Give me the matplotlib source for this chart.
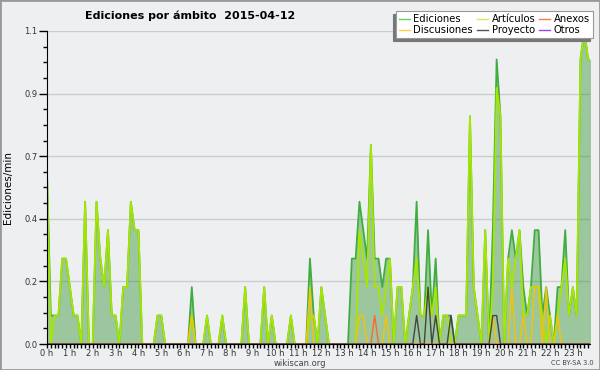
import numpy as np
import matplotlib.pyplot as plt
from matplotlib.patches import Rectangle
from matplotlib.lines import Line2D

# ediciones por minuto, bloques de 10 min (6 por hora)
ediciones = [
    0.6, 0.1, 0.1, 0.1, 0.3, 0.3,   # 0 h
    0.2, 0.1, 0.1, 0.0, 0.5, 0.0,   # 1 h
    0.0, 0.5, 0.3, 0.2, 0.4, 0.1,   # 2 h
    0.1, 0.0, 0.2, 0.2, 0.5, 0.4,   # 3 h
    0.4, 0.0, 0.0, 0.0, 0.0, 0.1,   # 4 h
    0.1, 0.0, 0.0, 0.0, 0.0, 0.0,   # 5 h
    0.0, 0.0, 0.2, 0.0, 0.0, 0.0,   # 6 h
    0.1, 0.0, 0.0, 0.0, 0.1, 0.0,   # 7 h
    0.0, 0.0, 0.0, 0.0, 0.2, 0.0,   # 8 h
    0.0, 0.0, 0.0, 0.2, 0.0, 0.1,   # 9 h
    0.0, 0.0, 0.0, 0.0, 0.1, 0.0,   # 10 h
    0.0, 0.0, 0.0, 0.3, 0.1, 0.0,   # 11 h
    0.2, 0.1, 0.0, 0.0, 0.0, 0.0,   # 12 h
    0.0, 0.0, 0.3, 0.3, 0.5, 0.4,   # 13 h
    0.3, 0.7, 0.3, 0.3, 0.2, 0.3,   # 14 h
    0.3, 0.0, 0.2, 0.2, 0.0, 0.1,   # 15 h
    0.2, 0.5, 0.1, 0.1, 0.4, 0.1,   # 16 h
    0.3, 0.0, 0.1, 0.1, 0.1, 0.0,   # 17 h
    0.1, 0.1, 0.1, 0.8, 0.2, 0.1,   # 18 h
    0.0, 0.4, 0.0, 0.4, 1.0, 0.8,   # 19 h
    0.0, 0.3, 0.4, 0.3, 0.4, 0.2,   # 20 h
    0.1, 0.2, 0.4, 0.4, 0.1, 0.2,   # 21 h
    0.1, 0.0, 0.2, 0.2, 0.4, 0.1,   # 22 h
    0.2, 0.1, 1.0, 1.1, 1.0, 1.0,   # 23 h
]

articulos = [
    0.6, 0.0, 0.1, 0.1, 0.3, 0.3,
    0.2, 0.1, 0.1, 0.0, 0.5, 0.0,
    0.0, 0.5, 0.3, 0.2, 0.4, 0.1,
    0.1, 0.0, 0.2, 0.2, 0.5, 0.4,
    0.4, 0.0, 0.0, 0.0, 0.0, 0.1,
    0.1, 0.0, 0.0, 0.0, 0.0, 0.0,
    0.0, 0.0, 0.1, 0.0, 0.0, 0.0,
    0.1, 0.0, 0.0, 0.0, 0.1, 0.0,
    0.0, 0.0, 0.0, 0.0, 0.2, 0.0,
    0.0, 0.0, 0.0, 0.2, 0.0, 0.1,
    0.0, 0.0, 0.0, 0.0, 0.1, 0.0,
    0.0, 0.0, 0.0, 0.1, 0.1, 0.0,
    0.2, 0.1, 0.0, 0.0, 0.0, 0.0,
    0.0, 0.0, 0.0, 0.0, 0.4, 0.3,
    0.2, 0.7, 0.2, 0.2, 0.1, 0.2,
    0.3, 0.0, 0.2, 0.2, 0.0, 0.1,
    0.2, 0.3, 0.1, 0.1, 0.2, 0.1,
    0.2, 0.0, 0.1, 0.1, 0.0, 0.0,
    0.1, 0.1, 0.1, 0.8, 0.2, 0.1,
    0.0, 0.4, 0.0, 0.2, 0.9, 0.8,
    0.0, 0.3, 0.2, 0.3, 0.4, 0.1,
    0.1, 0.2, 0.2, 0.2, 0.1, 0.0,
    0.1, 0.0, 0.1, 0.2, 0.3, 0.1,
    0.2, 0.1, 1.0, 1.1, 1.0, 1.0,
]

# series casi vacías: (índice de bloque, valor)
discusiones = {38: 0.1, 69: 0.2, 82: 0.1, 83: 0.1, 89: 0.1, 117: 0.1,
               122: 0.2, 125: 0.1, 128: 0.2, 129: 0.2, 131: 0.2, 134: 0.1}
anexos = {86: 0.1}
proyecto = {97: 0.1, 100: 0.2, 102: 0.1, 106: 0.1, 117: 0.1, 118: 0.1}
otros = {}

horas = [f"{h} h" for h in range(24)]
titulo = "Ediciones por ámbito  2015-04-12"


def serie(puntos, n=144):
    v = np.zeros(n)
    for i, val in puntos.items():
        v[i] = val
    return v


x = np.arange(len(ediciones))
bg = '#eeeff1'

fig = plt.figure(figsize=(6, 3.7), dpi=100, facecolor=bg)
ax = fig.add_axes([47 / 600, 1 - 344 / 370, 543 / 600, 313 / 370])
ax.set_facecolor(bg)

ax.fill_between(x, ediciones, color='#228b22', alpha=0.4, lw=0, zorder=1)
ax.plot(x, ediciones, color='#3fae3f', lw=1.3, zorder=2)
ax.plot(x, articulos, color='#a6e600', lw=1.3, zorder=2.1)
ax.plot(x, serie(discusiones), color='#f5c400', lw=1.0, zorder=2.2)
ax.plot(x, serie(anexos), color='#ff6633', lw=1.0, zorder=2.2)
ax.plot(x, serie(proyecto), color='#444444', lw=1.0, zorder=2.3)
ax.plot(x, serie(otros), color='#9933ff', lw=1.0, zorder=2.0)

ax.set_xlim(0, 142.5)
ax.set_ylim(0, 1.1)

yt = np.linspace(0, 1.1, 6)
ax.set_yticks(yt)
ax.set_yticklabels([f"{v:.1f}" for v in yt])
ax.set_yticks(np.arange(0, 1.1001, 0.055), minor=True)
ax.set_xticks(np.arange(0, 144, 6))
ax.set_xticklabels(horas)
ax.set_xticks(np.arange(0, 143), minor=True)

ax.tick_params(axis='both', which='major', direction='out', length=3, width=1,
               labelsize=6, labelcolor='#333333', pad=0.5)
ax.tick_params(axis='y', which='major', length=6, pad=1)
ax.tick_params(axis='both', which='minor', direction='out', length=3, width=1)

ax.grid(axis='y', which='major', color='#cccccc', lw=1)
ax.set_axisbelow(True)
for s in ['top', 'right']:
    ax.spines[s].set_visible(False)
for s in ['left', 'bottom']:
    ax.spines[s].set_color('black')
    ax.spines[s].set_zorder(3)

ax.set_ylabel("Ediciones/min", fontsize=7.5, labelpad=8)
fig.text(85 / 600, 1 - 16 / 370, titulo, fontsize=8.0, fontweight='bold',
         va='center', ha='left')

# leyenda
nombres = ['Ediciones', 'Discusiones', 'Artículos', 'Proyecto', 'Anexos', 'Otros']
colores = ['#66cc66', '#ffd24d', '#ccee55', '#555555', '#ff7744', '#9944ee']
handles = [Line2D([], [], color=c, lw=1) for c in colores]
leg = fig.legend(handles, nombres, ncol=3, loc='upper right',
                 bbox_to_anchor=(593 / 600, 1 - 11 / 370),
                 fontsize=7.2, frameon=True, fancybox=False, borderpad=0.3,
                 handlelength=1.1, handletextpad=0.4, columnspacing=0.35,
                 labelspacing=0.1, borderaxespad=0,
                 shadow={'ox': -2, 'oy': -2, 'color': '#777777', 'alpha': 1})
leg.get_frame().set_edgecolor('#999999')
leg.get_frame().set_linewidth(0.8)

fig.text(300 / 600, 1 - 363 / 370, "wikiscan.org", fontsize=6, color='#444444',
         ha='center', va='center')
fig.text(594 / 600, 1 - 363 / 370, "CC BY-SA 3.0", fontsize=4.8, color='#444444',
         ha='right', va='center')

fig.patches.append(Rectangle((0, 0), 1, 1, transform=fig.transFigure, fill=False,
                             edgecolor='#999999', lw=2))

fig.savefig('out.png', dpi=100, facecolor=bg)
